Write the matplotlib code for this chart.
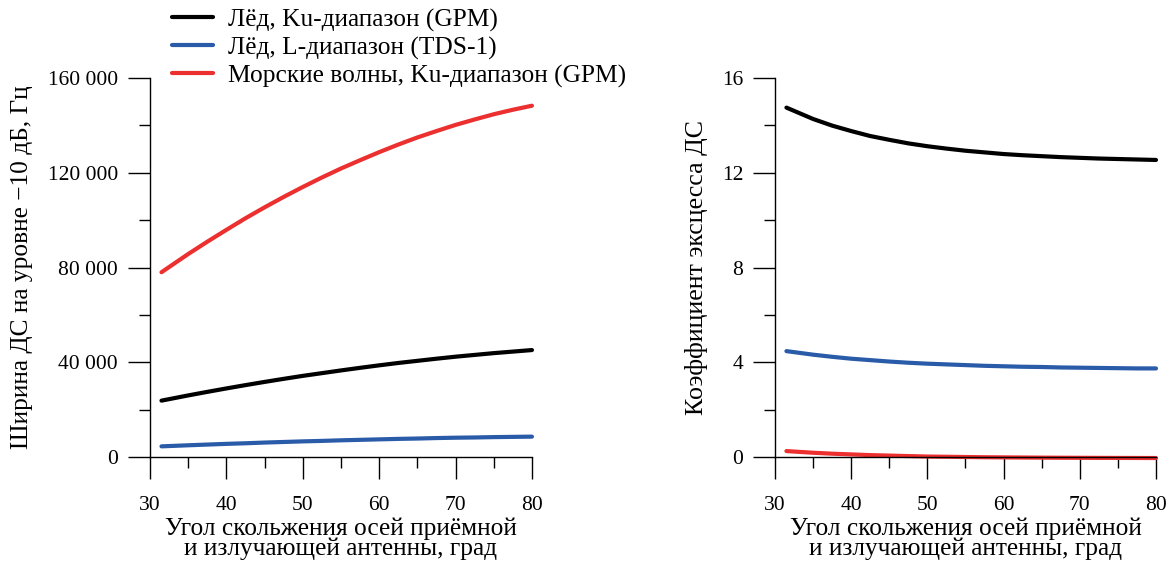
import matplotlib
matplotlib.use("Agg")
import matplotlib.pyplot as plt
from matplotlib.ticker import FuncFormatter, MultipleLocator

plt.rcParams['font.family'] = ['Liberation Serif', 'DejaVu Serif']

angle = [31.5, 35, 37.5, 40, 42.5, 45, 47.5, 50, 52.5, 55, 57.5,
         60, 62.5, 65, 67.5, 70, 72.5, 75, 77.5, 80]

# ширина ДС, Гц
width_ice_ku = [23800, 26000, 27500, 28950, 30350, 31700, 33000, 34250, 35400, 36550,
                37650, 38700, 39700, 40600, 41500, 42350, 43100, 43850, 44500, 45150]
width_ice_l = [4500, 4950, 5250, 5550, 5800, 6100, 6350, 6600, 6800, 7050,
               7250, 7450, 7650, 7800, 8000, 8150, 8250, 8400, 8500, 8600]
width_sea_ku = [78000, 85700, 90900, 95900, 100800, 105400, 109800, 114000, 118000, 121800,
                125300, 128700, 131900, 134900, 137600, 140200, 142500, 144700, 146600, 148300]

# коэффициент эксцесса
kurt_ice_ku = [14.75, 14.27, 13.99, 13.76, 13.55, 13.39, 13.24, 13.12, 13.02, 12.93,
               12.86, 12.79, 12.74, 12.70, 12.66, 12.63, 12.60, 12.58, 12.56, 12.54]
kurt_ice_l = [4.47, 4.32, 4.23, 4.15, 4.09, 4.03, 3.98, 3.94, 3.91, 3.88,
              3.85, 3.83, 3.81, 3.80, 3.78, 3.77, 3.76, 3.75, 3.74, 3.74]
kurt_sea_ku = [0.25, 0.18, 0.14, 0.11, 0.08, 0.06, 0.04, 0.02, 0.01, 0.0,
               -0.01, -0.016, -0.022, -0.027, -0.031, -0.034, -0.037, -0.039, -0.041, -0.043]

labels = ["Лёд, Ku-диапазон (GPM)", "Лёд, L-диапазон (TDS-1)",
          "Морские волны, Ku-диапазон (GPM)"]
colors = ["#000000", "#2a5ba8", "#ec2f2f"]

xlabel = "Угол скольжения осей приёмной\nи излучающей антенны, град"
tick_fs = 15.5
lab_fs = 18.3


def style_axes(ax, ymax, ystep):
    ax.spines['top'].set_visible(False)
    ax.spines['right'].set_visible(False)
    for s in ('left', 'bottom'):
        ax.spines[s].set_linewidth(1.0)
    ax.set_xlim(30, 80)
    ax.set_ylim(0, ymax)
    ax.xaxis.set_major_locator(MultipleLocator(10))
    ax.xaxis.set_minor_locator(MultipleLocator(5))
    ax.yaxis.set_major_locator(MultipleLocator(ystep))
    ax.yaxis.set_minor_locator(MultipleLocator(ystep / 2))
    ax.tick_params(which='major', direction='out', length=16, width=1.0,
                   labelsize=tick_fs)
    ax.tick_params(axis='y', which='major', pad=7)
    ax.tick_params(axis='x', which='major', pad=12)
    ax.tick_params(which='minor', direction='out', length=8, width=1.0)
    ax.set_xlabel(xlabel, fontsize=lab_fs, labelpad=2, linespacing=0.86)


fig = plt.figure(figsize=(11.73, 5.64), dpi=100)
ax1 = fig.add_axes([0.1279, 0.1897, 0.3256, 0.672])
ax2 = fig.add_axes([0.6607, 0.1897, 0.3248, 0.672])

for y, c, lab in zip([width_ice_ku, width_ice_l, width_sea_ku], colors, labels):
    ax1.plot(angle, y, color=c, lw=3, solid_capstyle='round', label=lab, clip_on=False)
for y, c in zip([kurt_ice_ku, kurt_ice_l, kurt_sea_ku], colors):
    ax2.plot(angle, y, color=c, lw=3, solid_capstyle='round', clip_on=False)

style_axes(ax1, 160000, 40000)
style_axes(ax2, 16, 4)
ax1.yaxis.set_major_formatter(FuncFormatter(
    lambda v, p: f"{int(v):,}".replace(",", " ")))
ax1.set_ylabel("Ширина ДС на уровне \u221210 дБ, Гц", fontsize=lab_fs)
ax1.yaxis.set_label_coords(-0.306, 0.5)
ax2.set_ylabel("Коэффициент эксцесса ДС", fontsize=18.6)
ax2.yaxis.set_label_coords(-0.176, 0.5)

fig.legend(loc='upper left', bbox_to_anchor=(0.1376, 1.003), frameon=False,
           fontsize=lab_fs, handlelength=1.63, handletextpad=0.6, labelspacing=0.19,
           borderaxespad=0)

fig.savefig("out.png", dpi=100)
